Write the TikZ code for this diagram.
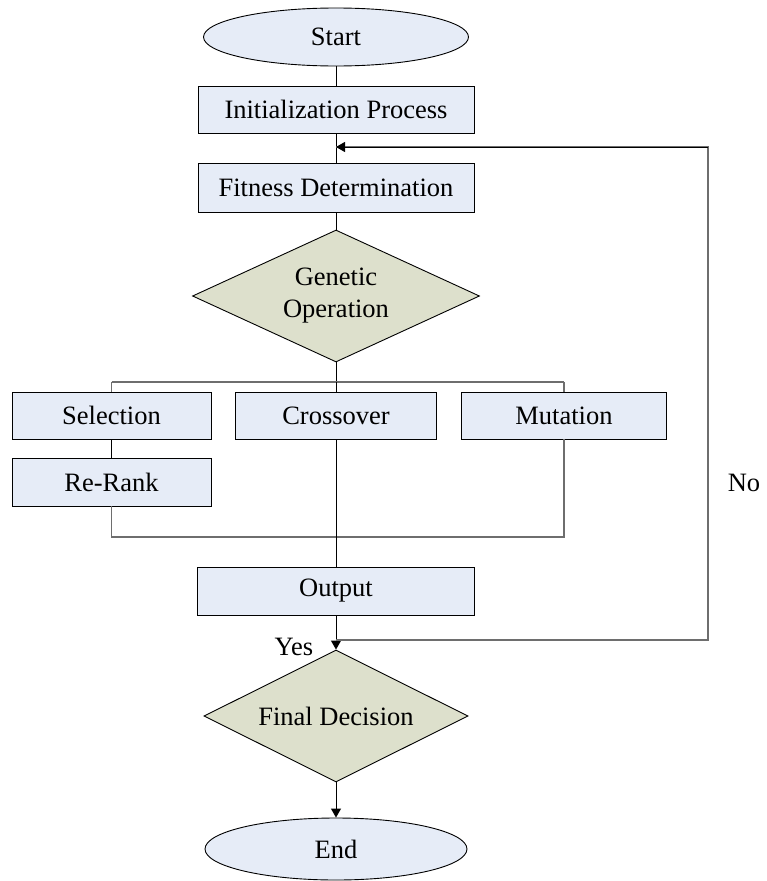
\documentclass[tikz,border=0pt]{standalone}
\usepackage{fontspec}
\setmainfont{Liberation Serif}
\usetikzlibrary{shapes.geometric,arrows.meta}
\definecolor{boxfill}{RGB}{230,236,247}
\definecolor{dfill}{RGB}{221,224,204}
\definecolor{busgray}{RGB}{110,110,110}
\tikzset{
  txt/.style={font=\fontsize{26.5}{32}\selectfont, text=black},
  procbox/.style={txt, draw=black, line width=0.9pt, fill=boxfill, rectangle, inner sep=0pt},
  termin/.style={txt, draw=black, line width=0.9pt, fill=boxfill, ellipse, inner sep=0pt},
  decis/.style={txt, draw=black, line width=0.9pt, fill=dfill, diamond, aspect=2.2, inner sep=0pt, align=center},
  conn/.style={draw=black, line width=0.9pt},
  bus/.style={draw=busgray, line width=1.2pt},
  arr/.style={conn, -{Triangle[length=9pt,width=10pt]}},
}
\begin{document}
\begin{tikzpicture}[x=1pt,y=-1pt]
\useasboundingbox (0,0) rectangle (766,881);
% nodes
\node[termin, minimum width=265pt, minimum height=58pt] (start) at (336,37) {Start};
\node[procbox, minimum width=276pt, minimum height=47pt] (init) at (336,109.5) {Initialization Process};
\node[procbox, minimum width=276pt, minimum height=49pt] (fit) at (336,187.5) {Fitness Determination};
\node[decis, minimum width=287pt, minimum height=132pt] (gen) at (336,296) {Genetic\\Operation};
\node[procbox, minimum width=199pt, minimum height=47pt] (sel) at (111.5,415.5) {Selection};
\node[procbox, minimum width=201pt, minimum height=47pt] (cross) at (336,415.5) {Crossover};
\node[procbox, minimum width=205pt, minimum height=47pt] (mut) at (564,415.5) {Mutation};
\node[procbox, minimum width=199pt, minimum height=48pt] (rerank) at (111.5,482) {Re-Rank};
\node[procbox, minimum width=277pt, minimum height=48pt] (out) at (336,591) {Output};
\node[decis, minimum width=264pt, minimum height=132pt] (fin) at (336,716) {Final Decision};
\node[termin, minimum width=262pt, minimum height=62pt] (end) at (336,849) {End};
% coordinates
\coordinate (gsplit) at (336,382);
\coordinate (busTL) at (111.5,382);
\coordinate (busTR) at (564,382);
\coordinate (busBL) at (111.5,537);
\coordinate (busBR) at (564,537);
\coordinate (joinA) at (336,640);
\coordinate (loopA) at (708,640);
\coordinate (loopB) at (708,147);
\coordinate (joinB) at (336,147);
% connectors
\draw[conn] (start.south) -- (init.north);
\draw[conn] (init.south) -- (fit.north);
\draw[conn] (fit.south) -- (gen.north);
\draw[conn] (gen.south) -- (gsplit);
\draw[bus] (busTL) -- (busTR);
\draw[bus] (busTL) -- (sel.north);
\draw[conn] (gsplit) -- (cross.north);
\draw[bus] (busTR) -- (mut.north);
\draw[conn] (sel.south) -- (rerank.north);
\draw[bus] (rerank.south) -- (busBL) -- (busBR) -- (mut.south);
\draw[conn] (cross.south) -- (out.north);
\draw[arr] (out.south) -- (fin.north);
\draw[bus] (joinA) -- (loopA) -- (loopB) -- (joinB);
\draw[arr] (loopB) -- (joinB);
\draw[arr] (fin.south) -- (end.north);
% labels
\node[txt, inner sep=0pt] (yes) at (294,647) {Yes};
\node[txt, inner sep=0pt] (no) at (744,483) {No};
\end{tikzpicture}
\end{document}
